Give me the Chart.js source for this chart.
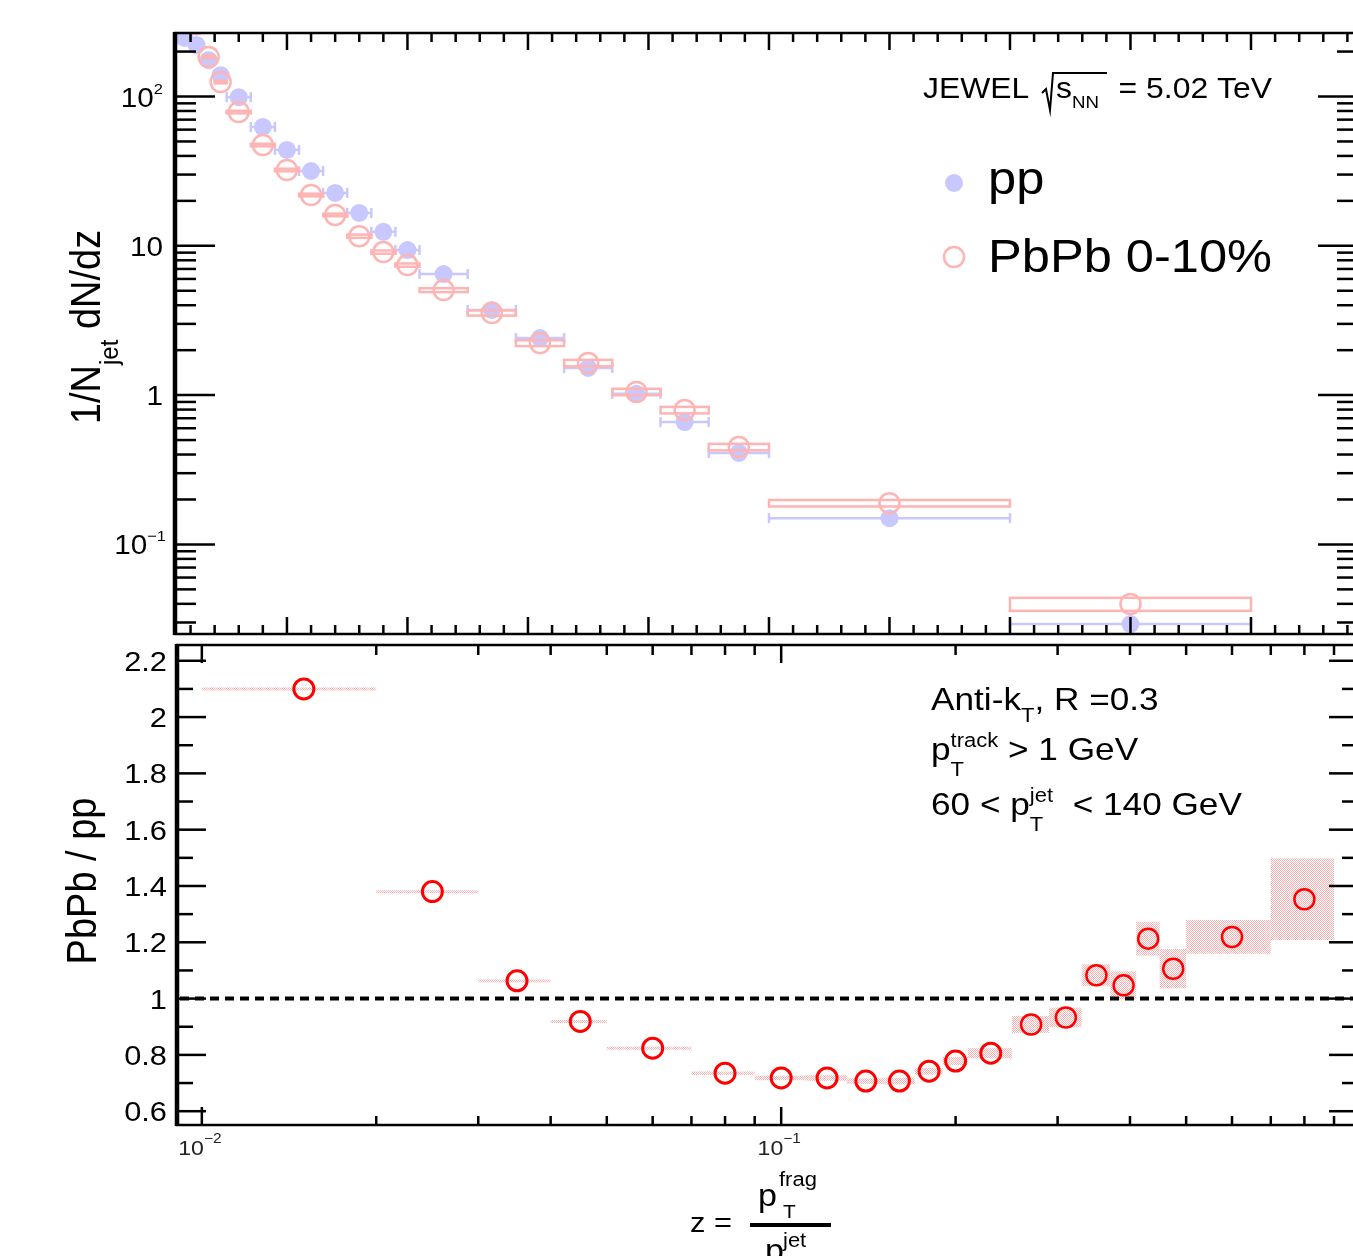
<!DOCTYPE html>
<html>
<head>
<meta charset="utf-8">
<script src="https://cdn.jsdelivr.net/npm/chart.js@4.4.1/dist/chart.umd.min.js"></script>
<style>
  html, body { margin: 0; padding: 0; background: #fff; overflow: hidden; width: 1353px; height: 1256px; }
  canvas { position: absolute; left: 0; }
  #topPanel { top: 0; }
  #ratioPanel { top: 640px; }
</style>
</head>
<body>
<canvas id="topPanel" width="1370" height="640"></canvas>
<canvas id="ratioPanel" width="1370" height="616"></canvas>
<script>
// bins in z
const zCenter = [0.015, 0.025, 0.035, 0.045, 0.06, 0.08, 0.10, 0.12, 0.14, 0.16, 0.18, 0.20, 0.23, 0.27, 0.31, 0.35, 0.39, 0.43, 0.475, 0.60, 0.80];
const zLow    = [0.01, 0.02, 0.03, 0.04, 0.05, 0.07, 0.09, 0.11, 0.13, 0.15, 0.17, 0.19, 0.21, 0.25, 0.29, 0.33, 0.37, 0.41, 0.45, 0.50, 0.70];
const zHigh   = [0.02, 0.03, 0.04, 0.05, 0.07, 0.09, 0.11, 0.13, 0.15, 0.17, 0.19, 0.21, 0.25, 0.29, 0.33, 0.37, 0.41, 0.45, 0.50, 0.70, 0.90];

// 1/Njet dN/dz
const ppYield   = [247, 221, 175, 139, 99, 62.5, 43.9, 31.7, 22.6, 16.6, 12.4, 9.37, 6.47, 3.72, 2.41, 1.52, 1.02, 0.66, 0.41, 0.150, 0.0293];
const pbpbYield = [520, 305, 184, 125, 78.7, 47.3, 32.2, 21.9, 16.1, 11.6, 9.08, 7.43, 5.05, 3.55, 2.23, 1.64, 1.05, 0.794, 0.449, 0.189, 0.0399];
const pbpbSyst  = [0.02, 0.02, 0.02, 0.02, 0.02, 0.02, 0.02, 0.02, 0.02, 0.025, 0.025, 0.025, 0.03, 0.04, 0.045, 0.05, 0.05, 0.05, 0.05, 0.05, 0.10];

// PbPb / pp
const ratio     = [2.10, 1.38, 1.063, 0.919, 0.824, 0.735, 0.718, 0.718, 0.707, 0.707, 0.742, 0.778, 0.806, 0.908, 0.933, 1.083, 1.047, 1.213, 1.106, 1.219, 1.353];
const ratioSyst = [0.005, 0.005, 0.005, 0.005, 0.005, 0.006, 0.008, 0.01, 0.01, 0.012, 0.012, 0.014, 0.018, 0.03, 0.035, 0.039, 0.05, 0.06, 0.07, 0.06, 0.145];

// tick labels
const yieldTickVals = [0.1, 1, 10, 100];
const yieldTickText = [['10', '\u22121'], ['1', ''], ['10', ''], ['10', '2']];
const ratioTickVals = [0.6, 0.8, 1, 1.2, 1.4, 1.6, 1.8, 2, 2.2];
const ratioTickText = ['0.6', '0.8', '1', '1.2', '1.4', '1.6', '1.8', '2', '2.2'];
const zTickVals = [0.01, 0.1];
const zTickText = [['10', '\u22122'], ['10', '\u22121']];

const ppColor = '#c8c8ff';
const pbpbColor = '#ffb4b4';
const SX = 1.1; // text in the picture is a bit wider than tall

function setFont(ctx, size) {
    ctx.font = size + 'px "Liberation Sans", Arial, sans-serif';
}

function line(ctx, x0, y0, x1, y1) {
    ctx.beginPath();
    ctx.moveTo(x0, y0);
    ctx.lineTo(x1, y1);
    ctx.stroke();
}

function clipTo(ctx, a) {
    ctx.beginPath();
    ctx.rect(a.left, a.top, a.right - a.left, a.bottom - a.top);
    ctx.clip();
}

/**
 * Texte avec indices / exposants (style ROOT)
 */
function drawRich(ctx, x, y, parts, o) {
    const size = o.size;
    const small = o.small || Math.round(size * 0.62);
    const sx = o.sx === undefined ? SX : o.sx;
    const sy = o.sy || 1;
    const raise = (o.raise || 0.42) * size;
    const drop = (o.drop || 0.42) * size;
    const widths = parts.map(p => {
        if (typeof p === 'string') { setFont(ctx, size); return ctx.measureText(p).width; }
        setFont(ctx, small);
        return Math.max(p.sup ? ctx.measureText(p.sup).width : 0, p.sub ? ctx.measureText(p.sub).width : 0);
    });
    const total = widths.reduce((s, w) => s + w, 0) * sx;
    let start = x;
    if (o.align === 'right') start = x - total;
    else if (o.align === 'center') start = x - total / 2;
    ctx.save();
    ctx.translate(start, y);
    ctx.scale(sx, sy);
    ctx.fillStyle = o.color || '#000';
    ctx.textAlign = 'left';
    ctx.textBaseline = 'alphabetic';
    let cx = 0;
    parts.forEach((p, i) => {
        if (typeof p === 'string') {
            setFont(ctx, size);
            ctx.fillText(p, cx, 0);
        } else {
            setFont(ctx, small);
            if (p.sup) ctx.fillText(p.sup, cx, -raise);
            if (p.sub) ctx.fillText(p.sub, cx, drop);
        }
        cx += widths[i];
    });
    ctx.restore();
}

function hatchPattern(ctx) {
    const c = document.createElement('canvas');
    c.width = 2;
    c.height = 2;
    const g = c.getContext('2d');
    g.fillStyle = 'rgb(255,175,175)';
    g.fillRect(0, 0, 1, 1);
    g.fillRect(1, 1, 1, 1);
    return ctx.createPattern(c, 'repeat');
}

//Panneau du haut : distributions
const topPlugin = {
    id: 'topPlugin',
    beforeDatasetsDraw(chart) {
        const { ctx, chartArea: a, scales: { x, y } } = chart;
        ctx.save();
        clipTo(ctx, a);
        ctx.strokeStyle = ppColor;
        ctx.lineWidth = 2.5;
        zCenter.forEach((z, i) => {
            const py = y.getPixelForValue(ppYield[i]);
            const x0 = x.getPixelForValue(zLow[i]);
            const x1 = x.getPixelForValue(zHigh[i]);
            line(ctx, x0, py, x1, py);
            line(ctx, x0, py - 5, x0, py + 5);
            line(ctx, x1, py - 5, x1, py + 5);
        });
        ctx.restore();
    },
    afterDatasetDraw(chart, args) {
        if (args.index !== 0) return;
        const { ctx, chartArea: a, scales: { x, y } } = chart;
        ctx.save();
        clipTo(ctx, a);
        ctx.strokeStyle = pbpbColor;
        ctx.lineWidth = 2.5;
        zCenter.forEach((z, i) => {
            const x0 = x.getPixelForValue(zLow[i]);
            const x1 = x.getPixelForValue(zHigh[i]);
            const y0 = y.getPixelForValue(pbpbYield[i] * (1 + pbpbSyst[i]));
            const y1 = y.getPixelForValue(pbpbYield[i] * (1 - pbpbSyst[i]));
            ctx.strokeRect(x0, y0, x1 - x0, y1 - y0);
        });
        ctx.restore();
    },
    afterDraw(chart) {
        const { ctx, chartArea: a, scales: { x, y } } = chart;
        ctx.save();
        ctx.strokeStyle = '#000';
        ctx.lineWidth = 2.5;
        for (let i = 1; i < 50; i++) {
            const px = x.getPixelForValue(i * 0.02);
            if (px <= a.left || px >= a.right) continue;
            const len = i % 5 === 0 ? 17 : 9;
            line(ctx, px, a.bottom, px, a.bottom - len);
            line(ctx, px, a.top, px, a.top + len);
        }
        for (let e = -2; e <= 2; e++) {
            for (let k = 1; k <= 9; k++) {
                const v = k * Math.pow(10, e);
                if (v < y.min || v > y.max) continue;
                const py = y.getPixelForValue(v);
                const len = k === 1 ? 40 : 21;
                line(ctx, a.left, py, a.left + len, py);
                line(ctx, a.right, py, a.right - len, py);
            }
        }
        ctx.lineWidth = 2.5;
        ctx.strokeRect(a.left, a.top, a.right - a.left, a.bottom - a.top);
        ctx.lineWidth = 4.5;
        line(ctx, a.left, a.top - 1, a.left, a.bottom + 1);

        //Labels de l'axe y
        yieldTickVals.forEach((v, i) => {
            const py = y.getPixelForValue(v);
            const t = yieldTickText[i];
            const parts = t[1] ? [t[0], { sup: t[1] }] : [t[0]];
            drawRich(ctx, t[1] === '\u22121' ? 166 : 163, py + 10, parts, { size: 27, small: 15, raise: 0.48, align: 'right' });
        });

        //Titre de l'axe y
        ctx.save();
        ctx.translate(100, 327);
        ctx.rotate(-Math.PI / 2);
        drawRich(ctx, 0, 0, ['1/N', { sub: 'jet' }, ' dN/dz'], { size: 38, small: 24, drop: 0.42, align: 'center', sx: 1, sy: SX });
        ctx.restore();

        //Energie
        drawRich(ctx, 923, 98, ['JEWEL'], { size: 29 });
        ctx.lineWidth = 2;
        ctx.beginPath();
        ctx.moveTo(1042, 93);
        ctx.lineTo(1046, 89);
        ctx.lineTo(1050, 110);
        ctx.lineTo(1053, 73);
        ctx.lineTo(1107, 73);
        ctx.stroke();
        drawRich(ctx, 1056, 98, ['s', { sub: 'NN' }], { size: 29, small: 17, drop: 0.34 });
        drawRich(ctx, 1272, 98, ['= 5.02 TeV'], { size: 29, align: 'right' });

        //Légende
        ctx.fillStyle = ppColor;
        ctx.beginPath();
        ctx.arc(954, 183, 9, 0, Math.PI * 2);
        ctx.fill();
        ctx.strokeStyle = pbpbColor;
        ctx.lineWidth = 2.5;
        ctx.beginPath();
        ctx.arc(954, 257, 10, 0, Math.PI * 2);
        ctx.stroke();
        drawRich(ctx, 988, 194, ['pp'], { size: 46 });
        drawRich(ctx, 988, 272, ['PbPb 0-10%'], { size: 46 });
        ctx.restore();
    }
};

//Panneau du bas : rapport
const ratioPlugin = {
    id: 'ratioPlugin',
    beforeDatasetsDraw(chart) {
        const { ctx, chartArea: a, scales: { x, y } } = chart;
        ctx.save();
        clipTo(ctx, a);
        ctx.fillStyle = hatchPattern(ctx);
        zCenter.forEach((z, i) => {
            const x0 = x.getPixelForValue(zLow[i]);
            const x1 = x.getPixelForValue(zHigh[i]);
            const y0 = y.getPixelForValue(ratio[i] + ratioSyst[i]);
            const y1 = y.getPixelForValue(ratio[i] - ratioSyst[i]);
            ctx.fillRect(x0, y0, x1 - x0, Math.max(3, y1 - y0));
        });
        //Ligne à 1
        ctx.strokeStyle = '#000';
        ctx.lineWidth = 4;
        ctx.setLineDash([9, 6]);
        const p1 = y.getPixelForValue(1);
        line(ctx, a.left + 3, p1, a.right, p1);
        ctx.restore();
    },
    afterDraw(chart) {
        const { ctx, chartArea: a, scales: { x, y } } = chart;
        ctx.save();
        ctx.strokeStyle = '#000';
        ctx.lineWidth = 2.5;
        for (let e = -3; e <= 0; e++) {
            for (let k = 1; k <= 9; k++) {
                const v = k * Math.pow(10, e);
                if (v <= x.min || v >= x.max) continue;
                const px = x.getPixelForValue(v);
                line(ctx, px, a.bottom, px, a.bottom - (k === 1 ? 18 : 9));
                line(ctx, px, a.top, px, a.top + (k === 1 ? 18 : 10));
            }
        }
        for (let i = 6; i <= 22; i++) {
            const py = y.getPixelForValue(i / 10);
            const len = i % 2 === 0 ? 29 : 16;
            line(ctx, a.left, py, a.left + len, py);
            line(ctx, a.right, py, a.right - len, py);
        }
        ctx.strokeRect(a.left, a.top, a.right - a.left, a.bottom - a.top);
        ctx.lineWidth = 4.5;
        line(ctx, a.left, a.top - 1, a.left, a.bottom + 1);

        ratioTickVals.forEach((v, i) => {
            drawRich(ctx, 167, y.getPixelForValue(v) + 10, [ratioTickText[i]], { size: 28, align: 'right' });
        });
        zTickVals.forEach((v, i) => {
            drawRich(ctx, x.getPixelForValue(v) - 2, 515, [zTickText[i][0], { sup: zTickText[i][1] }],
                { size: 21, small: 14, raise: 0.55, align: 'center', color: '#222' });
        });

        //Titre y
        ctx.save();
        ctx.translate(96, 241);
        ctx.rotate(-Math.PI / 2);
        drawRich(ctx, 0, 0, ['PbPb / pp'], { size: 38, align: 'center', sx: 1, sy: SX });
        ctx.restore();

        //Titre x : z = pT frag / pT jet
        drawRich(ctx, 690, 592, ['z ='], { size: 28 });
        drawRich(ctx, 758, 566, ['p'], { size: 31 });
        drawRich(ctx, 779, 546, ['frag'], { size: 20 });
        drawRich(ctx, 783, 578, ['T'], { size: 19 });
        ctx.fillStyle = '#000';
        ctx.fillRect(750, 583, 81, 4);
        drawRich(ctx, 765, 621, ['p'], { size: 31 });
        drawRich(ctx, 783, 607, ['jet'], { size: 20 });

        //Sélection
        drawRich(ctx, 931, 70, ['Anti-k', { sub: 'T' }, ', R =0.3'], { size: 32, small: 20, drop: 0.38 });
        drawRich(ctx, 931, 120, ['p', { sup: 'track', sub: 'T' }, ' > 1 GeV'], { size: 32, small: 20, raise: 0.42, drop: 0.5 });
        drawRich(ctx, 931, 175, ['60 < p', { sup: 'jet', sub: 'T' }, '  < 140 GeV'], { size: 32, small: 20, raise: 0.42, drop: 0.5 });
        ctx.restore();
    }
};

new Chart(document.getElementById('topPanel'), {
    type: 'scatter',
    data: {
        datasets: [{
            label: 'pp',
            data: zCenter.map((z, i) => ({ x: z, y: ppYield[i] })),
            order: 1,
            pointStyle: 'circle',
            pointRadius: 9,
            pointBackgroundColor: ppColor,
            pointBorderColor: ppColor,
            pointBorderWidth: 0,
            clip: 0
        }, {
            label: 'PbPb 0-10%',
            data: zCenter.map((z, i) => ({ x: z, y: pbpbYield[i] })),
            order: 0,
            pointStyle: 'circle',
            pointRadius: 10,
            pointBackgroundColor: 'rgba(0,0,0,0)',
            pointBorderColor: pbpbColor,
            pointBorderWidth: 2.5,
            clip: 0
        }]
    },
    options: {
        responsive: false,
        animation: false,
        devicePixelRatio: 1,
        events: [],
        layout: { autoPadding: false, padding: { left: 175, top: 33, right: 12, bottom: 6 } },
        scales: {
            x: { type: 'linear', min: 0.0071, max: 0.9888, display: false },
            y: { type: 'logarithmic', min: 0.02512, max: 266.3, display: false }
        },
        plugins: { legend: { display: false }, tooltip: { enabled: false } }
    },
    plugins: [topPlugin]
});

new Chart(document.getElementById('ratioPanel'), {
    type: 'scatter',
    data: {
        datasets: [{
            label: 'PbPb / pp',
            data: zCenter.map((z, i) => ({ x: z, y: ratio[i] })),
            pointStyle: 'circle',
            pointRadius: 10,
            pointBackgroundColor: 'rgba(0,0,0,0)',
            pointBorderColor: '#ff0000',
            pointBorderWidth: zCenter.map((z, i) => i < 13 ? 3 : 2.5),
            clip: 0
        }]
    },
    options: {
        responsive: false,
        animation: false,
        devicePixelRatio: 1,
        events: [],
        layout: { autoPadding: false, padding: { left: 177, top: 5, right: 12, bottom: 131 } },
        scales: {
            x: { type: 'logarithmic', min: 0.00906, max: 0.99, display: false },
            y: { type: 'linear', min: 0.551, max: 2.256, display: false }
        },
        plugins: { legend: { display: false }, tooltip: { enabled: false } }
    },
    plugins: [ratioPlugin]
});
</script>
</body>
</html>
